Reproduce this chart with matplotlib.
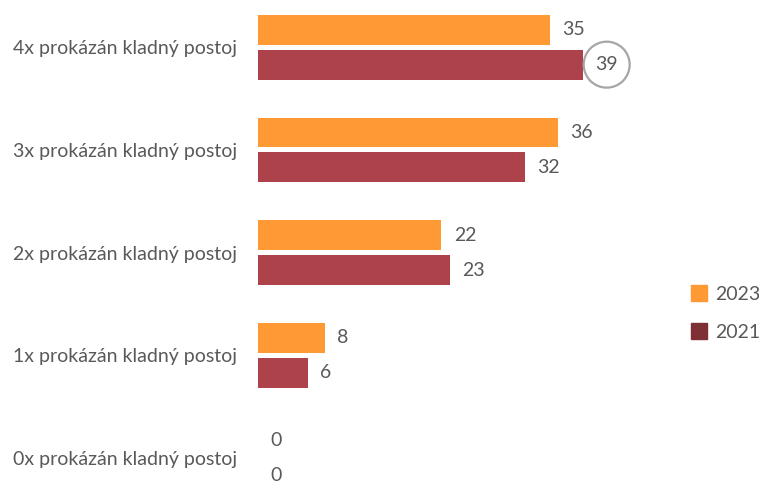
import matplotlib
matplotlib.use('Agg')
import matplotlib.pyplot as plt
from matplotlib.patches import Patch
import numpy as np

categories = ['4x prokázán kladný postoj', '3x prokázán kladný postoj',
              '2x prokázán kladný postoj', '1x prokázán kladný postoj',
              '0x prokázán kladný postoj']
values_2023 = [35, 36, 22, 8, 0]
values_2021 = [39, 32, 23, 6, 0]
highlight = (0, '2021')  # circled label

C_2023 = '#FF9933'
C_2021 = '#AE424A'
C_2021_LEG = '#7E3035'
TXT = '#595959'
FONT = 'Lato'
FS = 14

plt.rcParams['font.family'] = [FONT, 'DejaVu Sans']

fig = plt.figure(figsize=(7.59, 4.82), dpi=100)
ax = fig.add_axes([258 / 759, 0, 402 / 759, 1])

px_per_cat = 103.25
y = np.arange(len(categories))[::-1].astype(float)
off = 17.5 / px_per_cat
h = 30 / px_per_cat

b1 = ax.barh(y + off, values_2023, height=h, color=C_2023)
b2 = ax.barh(y - off, values_2021, height=h, color=C_2021)

ax.set_xlim(0, 402 / 8.33)
ax.set_ylim(-(482 - 458) / px_per_cat, 4 + 47.5 / px_per_cat)

ax.set_yticks(y)
ax.set_yticklabels(categories, fontsize=FS, color=TXT)
ax.tick_params(axis='y', length=0, pad=15)
ax.set_xticks([])
for s in ax.spines.values():
    s.set_visible(False)

def put_labels(bars, vals, name):
    for i, (bar, v) in enumerate(zip(bars, vals)):
        kw = {}
        if highlight == (i, name):
            kw['bbox'] = dict(boxstyle='circle,pad=0.6', fc='none', ec='#A6A6A6', lw=1.6)
        ax.annotate(str(v), (v, bar.get_y() + bar.get_height() / 2),
                    xytext=(9, 0), textcoords='offset points',
                    va='center', ha='left', fontsize=FS, color=TXT, **kw)

put_labels(b1, values_2023, '2023')
put_labels(b2, values_2021, '2021')

handles = [Patch(color=C_2023), Patch(color=C_2021_LEG)]
fig.legend(handles, ['2023', '2021'], loc='center left',
           bbox_to_anchor=(673 / 759, 1 - 313 / 482), frameon=False,
           fontsize=FS, labelcolor=TXT, handlelength=0.85, handleheight=0.85,
           handletextpad=0.4, labelspacing=1.05)

fig.savefig('out.png', dpi=100)
